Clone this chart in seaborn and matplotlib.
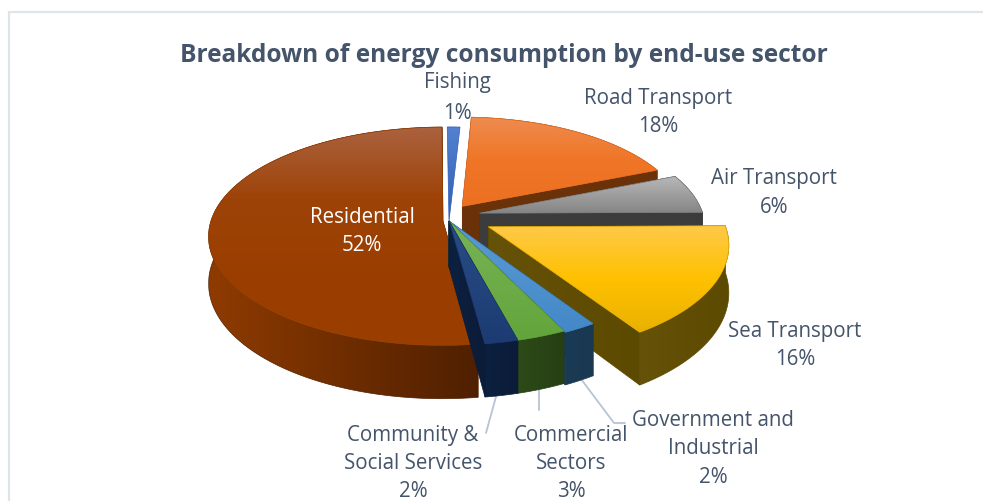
import numpy as np
import matplotlib
matplotlib.use("Agg")
import matplotlib.pyplot as plt
from matplotlib.patches import Polygon
import seaborn as sns

# Energy shares by end-use sector, clockwise from twelve o'clock
sectors = ["Fishing", "Road Transport", "Air Transport", "Sea Transport",
           "Government and Industrial", "Commercial Sectors",
           "Community & Social Services", "Residential"]
shares = [1, 18, 6, 16, 2, 3, 2, 52]
explode = [0.0, 0.10, 0.135, 0.19, 0.0, 0.0, 0.0, 0.026]
radius = [1.0, 0.965, 0.965, 1.01, 1.01, 1.0, 1.0, 1.0]
lift = [0, -6, -5, -4, 0, 0, 0, 0]
depth = [0.0, 1, 1, 1, 1, 1, 1, 1]

top_colours = [["#5482D0", "#2F5FB5"], ["#EE8C50", "#F07526", "#ED7022"],
               ["#B8B8B8", "#858585"], ["#FEC94A", "#FFC100", "#E9B100"],
               ["#5B9BD5", "#4488C8"], ["#7AB356", "#62A53B"],
               ["#2A4C85", "#1C3B73"],
               ["#AB623F", "#9E4308", "#9A3E00", "#9A3E00"]]
wall_colours = [["#1F3864", "#1F3864"], ["#6B3209", "#6B3209"],
                ["#3C3C3C", "#3C3C3C"], ["#665208", "#5C4A00"],
                ["#1A3A55", "#1A3850"], ["#2D4A18", "#263F14"],
                ["#0C2040", "#0B1C38"], ["#8E3B00", "#6F2D00", "#4F2000"]]

# Back-to-front drawing sequence of the slices
draw_order = [0, 1, 2, 7, 3, 4, 5, 6]

# Pie projection, in pixels
CX, CY = 449, 222
F, G, K, H = 232, 107, 0.1376, 46
START_DEG = -0.5

TEXT = "#44546A"
LEADER = "#B7C4D4"
FRAME = "#DFE4E9"

sns.set_theme(style="white")
plt.rcParams["font.family"] = ["Open Sans", "DejaVu Sans"]

fig = plt.figure(figsize=(9.83, 5.02), dpi=100, facecolor="white")
ax = fig.add_axes([0, 0, 1, 1])
ax.set_xlim(0, 983)
ax.set_ylim(502, 0)
ax.autoscale(False)
ax.axis("off")


def project(u, v, z=0.0, dy=0.0):
    s = 1 / (1 - K * v)
    return np.column_stack([CX + F * u * s, CY + dy + G * v * s + H * z * s])


def shaded(points, colours, vertical, zorder):
    """Fill a polygon with a palette gradient running across its bounding box."""
    patch = Polygon(points, closed=True, transform=ax.transData, facecolor="none",
                    edgecolor=colours[-1], linewidth=0.5, zorder=zorder + 0.01)
    ax.add_patch(patch)
    cmap = sns.blend_palette(colours, as_cmap=True)
    ramp = np.linspace(0, 1, 256)
    ramp = ramp[:, None] if vertical else ramp[None, :]
    x0, y0 = points.min(axis=0)
    x1, y1 = points.max(axis=0)
    img = ax.imshow(ramp, extent=(x0, x1, y1, y0), cmap=cmap, vmin=0, vmax=1,
                    aspect="auto", origin="upper", zorder=zorder,
                    interpolation="bilinear")
    img.set_clip_path(patch)


edges = np.radians(np.cumsum([0] + shares) * 3.6 + START_DEG)
zorder = 2.0
for i in draw_order:
    start, stop = edges[i], edges[i + 1]
    mid = (start + stop) / 2
    ou, ov = explode[i] * np.sin(mid), -explode[i] * np.cos(mid)
    theta = np.linspace(start, stop, 160)
    au, av = ou + radius[i] * np.sin(theta), ov - radius[i] * np.cos(theta)

    apex_top = project(np.array([ou]), np.array([ov]), dy=lift[i])
    rim_top = project(au, av, dy=lift[i])

    # radial cut faces, then the curved outer wall, then the top surface
    if depth[i] > 0:
        apex_low = project(np.array([ou]), np.array([ov]), depth[i], lift[i])
        rim_low = project(au, av, depth[i], lift[i])
        for rim_index in (0, -1):
            face = np.vstack([apex_top, rim_top[[rim_index]], rim_low[[rim_index]], apex_low])
            shaded(face, wall_colours[i], False, zorder)
            zorder += 0.1
        shaded(np.vstack([rim_top, rim_low[::-1]]), wall_colours[i], False, zorder)
        zorder += 0.1
    shaded(np.vstack([apex_top, rim_top]), top_colours[i], True, zorder)
    zorder += 0.1

# Title and slice labels
ax.text(503.5, 56, "Breakdown of energy consumption by end-use sector", ha="center",
        va="center", fontsize=17.65, fontweight="bold", color=TEXT, zorder=20)

labels = [("Fishing\n1%", 457, 98, TEXT, 1.64),
          ("Road Transport\n18%", 658, 112.5, TEXT, 1.48),
          ("Air Transport\n6%", 774, 193, TEXT, 1.48),
          ("Sea Transport\n16%", 795, 345.5, TEXT, 1.48),
          ("Government and\nIndustrial\n2%", 713, 449, TEXT, 1.48),
          ("Commercial\nSectors\n3%", 571, 463.5, TEXT, 1.46),
          ("Community &\nSocial Services\n2%", 413, 463.5, TEXT, 1.46),
          ("Residential\n52%", 362, 231.5, "white", 1.48)]
for text, x, y, colour, spacing in labels:
    ax.text(x, y, text, ha="center", va="center", fontsize=14.8, color=colour,
            linespacing=spacing, zorder=20)

# Leader lines for the small slices
ax.plot([497, 486], [394, 434], color=LEADER, lw=1.3, zorder=1.5)
ax.plot([539, 539], [390, 411], color=LEADER, lw=1.3, zorder=1.5)
ax.plot([575, 614, 625], [372, 424, 424], color=LEADER, lw=1.3, zorder=1.5)

# Chart frame along the top and left
ax.plot([9, 9, 983], [502, 13, 13], color=FRAME, lw=1.6, zorder=1, solid_joinstyle="miter")

ax.set_xlim(0, 983)
ax.set_ylim(502, 0)
fig.savefig("out.png", dpi=100, facecolor="white")
